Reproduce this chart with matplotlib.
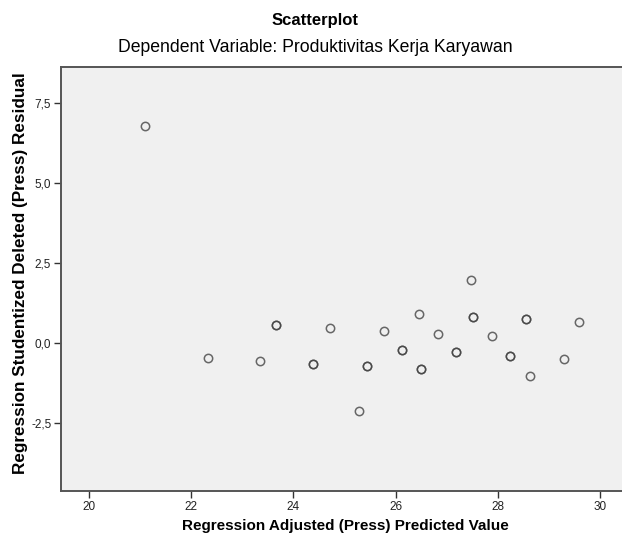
import matplotlib
matplotlib.use("Agg")
import matplotlib.pyplot as plt
from matplotlib.ticker import FuncFormatter

plt.rcParams['font.family'] = ['Liberation Sans', 'DejaVu Sans']

# nilai prediksi (adjusted press) dan residual studentized deleted
predicted = [21.10, 22.32, 23.35, 23.65, 23.65, 24.39, 24.39, 24.71, 25.44, 25.44,
             25.28, 25.78, 27.48, 26.46, 27.51, 27.51, 28.55, 28.55, 29.59, 26.82,
             27.88, 26.13, 26.13, 27.18, 27.18, 28.24, 28.24, 29.30, 26.49, 26.49,
             28.63]
residual = [6.78, -0.46, -0.55, 0.58, 0.58, -0.65, -0.65, 0.48, -0.72, -0.72,
            -2.11, 0.39, 1.96, 0.92, 0.83, 0.83, 0.74, 0.74, 0.66, 0.30,
            0.21, -0.20, -0.20, -0.28, -0.28, -0.39, -0.39, -0.49, -0.81, -0.81,
            -1.02]

x_ticks = [20, 22, 24, 26, 28, 30]
y_ticks = [-2.5, 0.0, 2.5, 5.0, 7.5]

fig = plt.figure(figsize=(6.22, 5.42), dpi=100)
ax = fig.add_axes([61 / 622, 1 - 491 / 542, 562 / 622, (491 - 67) / 542])
ax.set_facecolor('#f0f0f0')

ax.plot(predicted, residual, linestyle='none', marker='o', markersize=6,
        markerfacecolor='none', markeredgecolor='#444444', markeredgewidth=1.1,
        alpha=0.8)

ax.set_xlim(19.45, 30.45)
ax.set_ylim(-4.62, 8.63)
ax.set_xticks(x_ticks)
ax.set_yticks(y_ticks)
ax.yaxis.set_major_formatter(FuncFormatter(lambda v, p: f'{v:.1f}'.replace('.', ',')))
ax.tick_params(direction='out', length=5, width=1, color='#333333',
               labelsize=8.5, pad=2, labelcolor='#222222')

for s in ['left', 'bottom', 'top']:
    ax.spines[s].set_color('#555555')
    ax.spines[s].set_linewidth(1.4)
ax.spines['right'].set_visible(False)

ax.set_xlabel('Regression Adjusted (Press) Predicted Value', fontsize=11,
              fontweight='bold')
ax.set_ylabel('Regression Studentized Deleted (Press) Residual', fontsize=12.3,
              fontweight='bold')
ax.xaxis.set_label_coords((345 - 61) / 562, (491 - 526) / 424)
ax.yaxis.set_label_coords((21 - 61) / 562, (491 - 273) / 424)
ax.xaxis.label.set_va('center')
ax.yaxis.label.set_va('center')

fig.text(315 / 622, 1 - 20 / 542, 'Scatterplot', ha='center', va='center',
         fontsize=12, fontweight='bold')
fig.text(315.5 / 622, 1 - 47 / 542, 'Dependent Variable: Produktivitas Kerja Karyawan',
         ha='center', va='center', fontsize=12.7)

fig.savefig('out.png', dpi=100, facecolor='white')
